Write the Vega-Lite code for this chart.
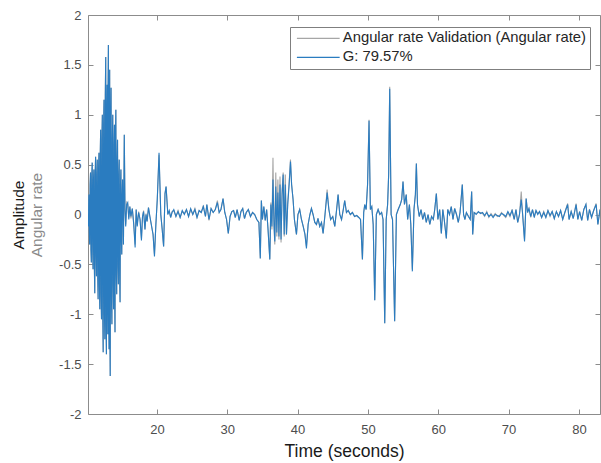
{
  "$schema": "https://vega.github.io/schema/vega-lite/v6.json",
  "width": 512,
  "height": 399,
  "autosize": "none",
  "padding": {"left": 88, "top": 15, "right": 1, "bottom": 49},
  "background": "white",
  "config": {
    "view": {"stroke": "#8c8c8c", "strokeWidth": 1},
    "font": "Liberation Sans",
    "axis": {"domain": false, "grid": false, "tickColor": "#8c8c8c", "labelFont": "Liberation Sans", "titleFont": "Liberation Sans", "titleFontWeight": "normal"}
  },
  "datasets": {
    "series": [
      {"t":10.20,"a":0.00,"g":0.00},{"t":10.26,"a":-0.12,"g":-0.12},{"t":10.32,"a":0.20,"g":0.20},{"t":10.38,"a":-0.18,"g":-0.18},{"t":10.44,"a":-0.30,"g":-0.30},{"t":10.50,"a":0.30,"g":0.30},{"t":10.56,"a":0.42,"g":0.42},
      {"t":10.62,"a":-0.35,"g":-0.35},{"t":10.68,"a":-0.48,"g":-0.48},{"t":10.74,"a":0.38,"g":0.38},{"t":10.80,"a":0.52,"g":0.52},{"t":10.86,"a":-0.30,"g":-0.30},{"t":10.92,"a":-0.55,"g":-0.55},{"t":10.98,"a":0.35,"g":0.35},{"t":11.04,"a":0.45,"g":0.45},
      {"t":11.10,"a":-0.50,"g":-0.50},{"t":11.16,"a":-0.79,"g":-0.79},{"t":11.22,"a":0.40,"g":0.40},{"t":11.28,"a":0.58,"g":0.58},{"t":11.34,"a":-0.40,"g":-0.40},{"t":11.40,"a":-0.62,"g":-0.62},{"t":11.46,"a":0.40,"g":0.40},{"t":11.52,"a":0.55,"g":0.55},
      {"t":11.58,"a":-0.60,"g":-0.60},{"t":11.64,"a":-0.85,"g":-0.85},{"t":11.70,"a":0.45,"g":0.45},{"t":11.76,"a":0.62,"g":0.62},{"t":11.82,"a":-0.70,"g":-0.70},{"t":11.88,"a":-0.95,"g":-0.95},{"t":11.94,"a":0.60,"g":0.60},{"t":12.00,"a":0.85,"g":0.85},
      {"t":12.06,"a":-0.80,"g":-0.80},{"t":12.12,"a":-1.05,"g":-1.05},{"t":12.18,"a":0.75,"g":0.75},{"t":12.24,"a":1.00,"g":1.00},{"t":12.30,"a":-1.00,"g":-1.00},{"t":12.36,"a":-1.38,"g":-1.38},{"t":12.42,"a":0.90,"g":0.90},{"t":12.48,"a":1.15,"g":1.15},
      {"t":12.54,"a":-1.00,"g":-1.00},{"t":12.60,"a":-1.25,"g":-1.25},{"t":12.66,"a":1.20,"g":1.20},{"t":12.72,"a":1.58,"g":1.58},{"t":12.77,"a":-1.10,"g":-1.10},{"t":12.82,"a":-1.40,"g":-1.40},{"t":12.87,"a":1.00,"g":1.00},{"t":12.92,"a":1.30,"g":1.30},
      {"t":12.97,"a":-0.90,"g":-0.90},{"t":13.02,"a":-1.20,"g":-1.20},{"t":13.06,"a":1.30,"g":1.30},{"t":13.10,"a":1.70,"g":1.70},{"t":13.15,"a":-1.00,"g":-1.00},{"t":13.20,"a":-1.35,"g":-1.35},{"t":13.24,"a":1.10,"g":1.10},{"t":13.28,"a":1.45,"g":1.45},
      {"t":13.32,"a":-1.20,"g":-1.20},{"t":13.36,"a":-1.62,"g":-1.62},{"t":13.42,"a":0.95,"g":0.95},{"t":13.48,"a":1.27,"g":1.27},{"t":13.54,"a":-0.85,"g":-0.85},{"t":13.60,"a":-1.10,"g":-1.10},{"t":13.66,"a":0.75,"g":0.75},{"t":13.72,"a":1.00,"g":1.00},
      {"t":13.78,"a":-0.70,"g":-0.70},{"t":13.84,"a":-0.95,"g":-0.95},{"t":13.90,"a":0.70,"g":0.70},{"t":13.96,"a":0.90,"g":0.90},{"t":14.00,"a":-0.85,"g":-0.85},{"t":14.04,"a":-1.18,"g":-1.18},{"t":14.10,"a":0.80,"g":0.80},{"t":14.16,"a":1.05,"g":1.05},
      {"t":14.22,"a":-0.60,"g":-0.60},{"t":14.28,"a":-0.80,"g":-0.80},{"t":14.34,"a":0.55,"g":0.55},{"t":14.40,"a":0.75,"g":0.75},{"t":14.46,"a":-0.50,"g":-0.50},{"t":14.52,"a":-0.70,"g":-0.70},{"t":14.58,"a":0.40,"g":0.40},{"t":14.64,"a":0.55,"g":0.55},
      {"t":14.70,"a":-0.60,"g":-0.60},{"t":14.76,"a":-0.88,"g":-0.88},{"t":14.82,"a":0.30,"g":0.30},{"t":14.88,"a":0.45,"g":0.45},{"t":14.94,"a":-0.25,"g":-0.25},{"t":15.00,"a":-0.40,"g":-0.40},{"t":15.06,"a":0.20,"g":0.20},{"t":15.12,"a":0.35,"g":0.35},
      {"t":15.24,"a":-0.30,"g":-0.30},{"t":15.36,"a":0.80,"g":0.80},{"t":15.46,"a":0.05,"g":0.05},{"t":15.56,"a":-0.10,"g":-0.12},
      {"t":15.70,"a":0.12,"g":0.10},{"t":15.85,"a":0.10,"g":0.12},{"t":16.00,"a":-0.03,"g":-0.05},{"t":16.15,"a":0.08,"g":0.08},
      {"t":16.30,"a":-0.04,"g":-0.02},{"t":16.50,"a":0.06,"g":0.06},{"t":16.70,"a":-0.08,"g":-0.10},{"t":16.90,"a":-0.30,"g":-0.33},
      {"t":17.05,"a":0.05,"g":0.05},{"t":17.20,"a":-0.10,"g":-0.12},{"t":17.40,"a":0.03,"g":0.02},{"t":17.60,"a":-0.05,"g":-0.05},
      {"t":17.80,"a":-0.24,"g":-0.26},{"t":17.95,"a":-0.02,"g":-0.02},{"t":18.10,"a":0.04,"g":0.03},{"t":18.30,"a":-0.15,"g":-0.15},
      {"t":18.45,"a":0.01,"g":0.00},{"t":18.60,"a":-0.07,"g":-0.07},{"t":18.80,"a":0.07,"g":0.07},{"t":19.00,"a":-0.02,"g":-0.02},
      {"t":19.20,"a":-0.10,"g":-0.10},{"t":19.45,"a":-0.20,"g":-0.20},{"t":19.65,"a":-0.40,"g":-0.42},{"t":19.85,"a":-0.10,"g":-0.10},
      {"t":20.05,"a":0.15,"g":0.15},{"t":20.30,"a":0.60,"g":0.62},{"t":20.55,"a":0.00,"g":0.00},{"t":20.75,"a":-0.15,"g":-0.15},
      {"t":20.95,"a":-0.32,"g":-0.32},{"t":21.15,"a":0.21,"g":0.21},{"t":21.30,"a":0.28,"g":0.28},{"t":21.55,"a":0.01,"g":0.00},
      {"t":21.75,"a":0.03,"g":0.04},{"t":21.95,"a":-0.03,"g":-0.03},{"t":22.15,"a":0.03,"g":0.02},{"t":22.40,"a":0.04,"g":0.05},
      {"t":22.70,"a":-0.02,"g":-0.02},{"t":23.00,"a":0.04,"g":0.03},{"t":23.30,"a":-0.03,"g":-0.03},{"t":23.60,"a":0.03,"g":0.04},
      {"t":23.90,"a":0.01,"g":0.00},{"t":24.20,"a":0.05,"g":0.05},{"t":24.50,"a":-0.02,"g":-0.02},{"t":24.80,"a":0.05,"g":0.06},
      {"t":25.10,"a":0.00,"g":0.00},{"t":25.40,"a":0.06,"g":0.05},{"t":25.70,"a":-0.03,"g":-0.03},{"t":26.00,"a":0.04,"g":0.04},
      {"t":26.30,"a":0.02,"g":0.02},{"t":26.60,"a":0.09,"g":0.08},{"t":26.90,"a":-0.02,"g":-0.02},{"t":27.10,"a":0.10,"g":0.10},
      {"t":27.40,"a":-0.06,"g":-0.05},{"t":27.70,"a":0.06,"g":0.06},{"t":28.00,"a":0.02,"g":0.02},{"t":28.30,"a":0.05,"g":0.05},
      {"t":28.60,"a":0.14,"g":0.12},{"t":28.85,"a":0.02,"g":0.02},{"t":29.10,"a":0.05,"g":0.05},{"t":29.40,"a":0.16,"g":0.16},
      {"t":29.65,"a":0.02,"g":0.02},{"t":29.90,"a":-0.05,"g":-0.05},{"t":30.15,"a":-0.19,"g":-0.19},{"t":30.40,"a":-0.02,"g":-0.02},
      {"t":30.65,"a":0.03,"g":0.03},{"t":30.90,"a":0.04,"g":0.04},{"t":31.15,"a":-0.03,"g":-0.03},{"t":31.40,"a":0.05,"g":0.05},
      {"t":31.70,"a":-0.06,"g":-0.06},{"t":31.95,"a":0.03,"g":0.03},{"t":32.20,"a":0.06,"g":0.06},{"t":32.45,"a":-0.04,"g":-0.04},
      {"t":32.70,"a":0.02,"g":0.02},{"t":33.00,"a":0.05,"g":0.05},{"t":33.30,"a":-0.02,"g":-0.02},{"t":33.60,"a":0.02,"g":0.02},
      {"t":33.90,"a":0.00,"g":0.00},{"t":34.20,"a":-0.05,"g":-0.05},{"t":34.50,"a":-0.08,"g":-0.08},{"t":34.70,"a":-0.44,"g":-0.44},
      {"t":34.85,"a":0.14,"g":0.14},{"t":35.00,"a":-0.05,"g":-0.05},{"t":35.20,"a":0.08,"g":0.08},{"t":35.40,"a":-0.06,"g":-0.06},
      {"t":35.60,"a":0.05,"g":0.05},{"t":35.80,"a":-0.15,"g":-0.15},{"t":36.05,"a":-0.45,"g":-0.45},{"t":36.20,"a":0.12,"g":0.10},
      {"t":36.35,"a":-0.15,"g":-0.12},{"t":36.50,"a":0.57,"g":0.35},{"t":36.65,"a":-0.12,"g":-0.10},{"t":36.76,"a":-0.30,"g":-0.27},
      {"t":36.90,"a":0.42,"g":0.28},{"t":37.05,"a":-0.22,"g":-0.18},{"t":37.20,"a":0.35,"g":0.22},{"t":37.35,"a":-0.25,"g":-0.22},
      {"t":37.50,"a":0.38,"g":0.30},{"t":37.65,"a":-0.28,"g":-0.25},{"t":37.80,"a":0.25,"g":0.20},{"t":37.95,"a":0.42,"g":0.40},
      {"t":38.10,"a":-0.22,"g":-0.20},{"t":38.25,"a":0.40,"g":0.30},{"t":38.42,"a":-0.20,"g":-0.20},{"t":38.60,"a":0.12,"g":0.10},
      {"t":38.80,"a":0.32,"g":0.30},{"t":38.99,"a":0.55,"g":0.53},{"t":39.15,"a":0.30,"g":0.30},{"t":39.36,"a":0.15,"g":0.15},
      {"t":39.55,"a":-0.05,"g":-0.05},{"t":39.84,"a":-0.20,"g":-0.20},{"t":40.05,"a":0.00,"g":0.00},{"t":40.30,"a":0.05,"g":0.05},
      {"t":40.55,"a":-0.05,"g":-0.05},{"t":40.80,"a":-0.12,"g":-0.12},{"t":41.05,"a":-0.20,"g":-0.20},{"t":41.26,"a":-0.32,"g":-0.34},
      {"t":41.50,"a":-0.10,"g":-0.10},{"t":41.75,"a":0.00,"g":0.00},{"t":41.97,"a":0.06,"g":0.06},{"t":42.20,"a":0.00,"g":0.00},
      {"t":42.45,"a":-0.08,"g":-0.08},{"t":42.69,"a":-0.10,"g":-0.10},{"t":42.90,"a":-0.04,"g":-0.04},{"t":43.15,"a":-0.12,"g":-0.12},
      {"t":43.40,"a":-0.08,"g":-0.08},{"t":43.63,"a":-0.19,"g":-0.19},{"t":43.90,"a":0.00,"g":0.00},{"t":44.20,"a":0.25,"g":0.22},
      {"t":44.45,"a":0.05,"g":0.05},{"t":44.70,"a":-0.05,"g":-0.05},{"t":45.00,"a":-0.02,"g":-0.02},{"t":45.29,"a":-0.12,"g":-0.12},
      {"t":45.55,"a":0.05,"g":0.05},{"t":45.76,"a":0.20,"g":0.20},{"t":46.00,"a":0.00,"g":0.00},{"t":46.25,"a":-0.05,"g":-0.05},
      {"t":46.50,"a":0.05,"g":0.05},{"t":46.70,"a":0.14,"g":0.14},{"t":46.95,"a":0.02,"g":0.02},{"t":47.20,"a":0.04,"g":0.04},
      {"t":47.50,"a":0.00,"g":0.00},{"t":47.80,"a":0.02,"g":0.02},{"t":48.10,"a":-0.02,"g":-0.02},{"t":48.40,"a":-0.01,"g":-0.01},
      {"t":48.70,"a":-0.03,"g":-0.03},{"t":48.95,"a":-0.05,"g":-0.05},{"t":49.22,"a":-0.45,"g":-0.45},{"t":49.40,"a":0.02,"g":0.02},
      {"t":49.55,"a":0.10,"g":0.10},{"t":49.75,"a":0.05,"g":0.05},{"t":49.95,"a":0.30,"g":0.30},{"t":50.16,"a":0.95,"g":0.94},
      {"t":50.35,"a":0.05,"g":0.05},{"t":50.55,"a":0.08,"g":0.08},{"t":50.75,"a":-0.10,"g":-0.10},{"t":50.97,"a":-0.86,"g":-0.86},
      {"t":51.20,"a":0.00,"g":0.00},{"t":51.45,"a":0.05,"g":0.05},{"t":51.70,"a":0.00,"g":0.00},{"t":51.95,"a":0.02,"g":0.02},
      {"t":52.15,"a":-0.05,"g":-0.05},{"t":52.39,"a":-1.09,"g":-1.09},{"t":52.60,"a":-0.05,"g":-0.05},{"t":52.80,"a":0.10,"g":0.10},
      {"t":52.95,"a":0.40,"g":0.40},{"t":53.10,"a":1.28,"g":1.26},{"t":53.30,"a":0.00,"g":0.00},{"t":53.50,"a":-0.05,"g":-0.05},
      {"t":53.80,"a":-1.07,"g":-1.07},{"t":54.05,"a":0.00,"g":0.00},{"t":54.30,"a":0.05,"g":0.05},{"t":54.60,"a":0.10,"g":0.10},
      {"t":54.80,"a":0.15,"g":0.15},{"t":54.99,"a":0.33,"g":0.33},{"t":55.20,"a":0.10,"g":0.10},{"t":55.45,"a":0.20,"g":0.20},
      {"t":55.65,"a":-0.05,"g":-0.05},{"t":55.90,"a":0.10,"g":0.10},{"t":56.10,"a":-0.10,"g":-0.10},{"t":56.32,"a":-0.55,"g":-0.57},
      {"t":56.55,"a":0.05,"g":0.05},{"t":56.75,"a":0.20,"g":0.20},{"t":56.89,"a":0.51,"g":0.51},{"t":57.05,"a":0.10,"g":0.10},
      {"t":57.30,"a":-0.02,"g":-0.02},{"t":57.55,"a":0.05,"g":0.05},{"t":57.80,"a":-0.05,"g":-0.05},{"t":58.05,"a":0.02,"g":0.02},
      {"t":58.30,"a":-0.08,"g":-0.08},{"t":58.55,"a":0.00,"g":0.00},{"t":58.80,"a":-0.10,"g":-0.10},{"t":59.05,"a":-0.02,"g":-0.02},
      {"t":59.30,"a":-0.05,"g":-0.05},{"t":59.50,"a":0.05,"g":0.05},{"t":59.73,"a":0.21,"g":0.21},{"t":59.95,"a":-0.05,"g":-0.05},
      {"t":60.20,"a":0.05,"g":0.05},{"t":60.44,"a":-0.19,"g":-0.19},{"t":60.65,"a":0.05,"g":0.05},{"t":60.85,"a":-0.05,"g":-0.05},
      {"t":61.15,"a":-0.24,"g":-0.24},{"t":61.35,"a":0.05,"g":0.05},{"t":61.60,"a":0.00,"g":0.00},{"t":61.85,"a":0.08,"g":0.08},
      {"t":62.10,"a":-0.05,"g":-0.05},{"t":62.33,"a":0.06,"g":0.06},{"t":62.60,"a":0.00,"g":0.00},{"t":62.85,"a":-0.08,"g":-0.08},
      {"t":63.10,"a":0.02,"g":0.02},{"t":63.42,"a":0.30,"g":0.30},{"t":63.60,"a":0.00,"g":0.00},{"t":63.80,"a":-0.05,"g":-0.05},
      {"t":64.00,"a":0.02,"g":0.02},{"t":64.30,"a":-0.02,"g":-0.02},{"t":64.55,"a":-0.05,"g":-0.05},{"t":64.75,"a":0.23,"g":0.23},
      {"t":64.90,"a":-0.20,"g":-0.20},{"t":65.10,"a":0.02,"g":0.02},{"t":65.40,"a":0.01,"g":0.00},{"t":65.70,"a":0.02,"g":0.03},
      {"t":66.00,"a":0.02,"g":0.01},{"t":66.30,"a":0.01,"g":0.02},{"t":66.60,"a":-0.02,"g":-0.01},{"t":66.90,"a":0.03,"g":0.02},
      {"t":67.20,"a":-0.03,"g":-0.02},{"t":67.50,"a":0.01,"g":0.00},{"t":67.80,"a":-0.02,"g":-0.03},{"t":68.10,"a":0.01,"g":0.00},
      {"t":68.40,"a":-0.02,"g":-0.01},{"t":68.70,"a":-0.01,"g":-0.02},{"t":69.00,"a":0.02,"g":0.01},{"t":69.30,"a":-0.01,"g":0.00},
      {"t":69.60,"a":-0.03,"g":-0.02},{"t":69.90,"a":0.02,"g":0.03},{"t":70.20,"a":-0.02,"g":-0.01},{"t":70.50,"a":0.05,"g":0.04},
      {"t":70.80,"a":-0.05,"g":-0.05},{"t":71.05,"a":0.05,"g":0.05},{"t":71.30,"a":-0.08,"g":-0.08},{"t":71.55,"a":0.00,"g":0.00},
      {"t":71.80,"a":0.23,"g":0.15},{"t":72.00,"a":0.00,"g":0.00},{"t":72.27,"a":-0.25,"g":-0.27},{"t":72.50,"a":0.16,"g":0.16},
      {"t":72.70,"a":0.02,"g":0.02},{"t":72.90,"a":0.06,"g":0.06},{"t":73.15,"a":-0.03,"g":-0.02},{"t":73.40,"a":0.05,"g":0.05},
      {"t":73.65,"a":-0.02,"g":-0.03},{"t":73.90,"a":0.04,"g":0.04},{"t":74.15,"a":0.01,"g":0.00},{"t":74.40,"a":0.03,"g":0.03},
      {"t":74.70,"a":-0.03,"g":-0.03},{"t":75.00,"a":0.03,"g":0.02},{"t":75.30,"a":-0.03,"g":-0.03},{"t":75.60,"a":0.04,"g":0.04},
      {"t":75.90,"a":-0.02,"g":-0.01},{"t":76.20,"a":0.03,"g":0.03},{"t":76.50,"a":-0.04,"g":-0.04},{"t":76.80,"a":0.03,"g":0.03},
      {"t":77.10,"a":-0.02,"g":-0.02},{"t":77.40,"a":0.04,"g":0.04},{"t":77.70,"a":-0.05,"g":-0.05},{"t":78.00,"a":0.02,"g":0.02},
      {"t":78.40,"a":0.11,"g":0.10},{"t":78.60,"a":-0.05,"g":-0.05},{"t":78.90,"a":0.03,"g":0.03},{"t":79.20,"a":-0.04,"g":-0.04},
      {"t":79.60,"a":0.11,"g":0.10},{"t":79.85,"a":-0.05,"g":-0.05},{"t":80.10,"a":0.03,"g":0.03},{"t":80.40,"a":-0.06,"g":-0.06},
      {"t":80.70,"a":0.05,"g":0.05},{"t":81.00,"a":0.10,"g":0.10},{"t":81.25,"a":-0.06,"g":-0.06},{"t":81.50,"a":0.05,"g":0.05},
      {"t":81.80,"a":-0.03,"g":-0.03},{"t":82.10,"a":0.04,"g":0.04},{"t":82.45,"a":0.11,"g":0.10},{"t":82.70,"a":-0.10,"g":-0.10},
      {"t":83.00,"a":0.05,"g":0.05}
    ]
  },
  "data": {"name": "series"},
  "transform": [{"fold": ["a", "g"], "as": ["s", "v"]}],
  "layer": [
    {
      "mark": {"type": "line", "strokeWidth": 1.1, "clip": true},
      "encoding": {
        "x": {
          "field": "t", "type": "quantitative",
          "scale": {"domain": [10.2, 83.0], "nice": false, "zero": false},
          "axis": {"orient": "bottom", "values": [20, 30, 40, 50, 60, 70, 80], "tickSize": -5, "labelPadding": 14, "labelFontSize": 13, "labelColor": "#4d4d4d", "title": "Time (seconds)", "titleFontSize": 17.5, "titleColor": "#1a1a1a", "titlePadding": 6}
        },
        "y": {
          "field": "v", "type": "quantitative",
          "scale": {"domain": [-2, 2], "nice": false, "zero": false},
          "axis": {"orient": "left", "values": [-2, -1.5, -1, -0.5, 0, 0.5, 1, 1.5, 2], "labelExpr": "datum.value + ''", "tickSize": -5, "labelPadding": 12, "labelFontSize": 13, "labelColor": "#4d4d4d", "title": "Angular rate", "titleFontSize": 15.5, "titleColor": "#8a8a8a", "titlePadding": 14}
        },
        "color": {
          "field": "s", "type": "nominal",
          "scale": {"domain": ["a", "g"], "range": ["#a6a6a6", "#2a7cc0"]},
          "legend": {
            "orient": "none", "legendX": 202, "legendY": 12,
            "title": null, "symbolType": "M-1,0H8.5", "symbolSize": 81, "symbolStrokeWidth": 1.2,
            "labelExpr": "datum.label == 'a' ? 'Angular rate Validation (Angular rate)' : 'G: 79.57%'",
            "labelFontSize": 14.8, "labelColor": "#262626", "labelFont": "Liberation Sans", "labelLimit": 400,
            "strokeColor": "#7f7f7f", "fillColor": "white", "padding": 4, "rowPadding": 3, "labelOffset": 34
          }
        }
      }
    },
    {
      "mark": {"type": "line", "opacity": 0},
      "encoding": {
        "x": {"field": "t", "type": "quantitative", "axis": {"orient": "top", "values": [20, 30, 40, 50, 60, 70, 80], "labels": false, "tickSize": -5, "title": null}},
        "y": {"field": "v", "type": "quantitative", "axis": {"orient": "right", "values": [-2, -1.5, -1, -0.5, 0, 0.5, 1, 1.5, 2], "labels": false, "tickSize": -5, "title": null}}
      }
    },
    {
      "mark": {"type": "line", "opacity": 0},
      "encoding": {
        "x": {"field": "t", "type": "quantitative", "axis": null},
        "y": {"field": "v", "type": "quantitative", "axis": {"orient": "left", "labels": false, "ticks": false, "title": "Amplitude", "titleFontSize": 15.5, "titleColor": "#1a1a1a", "titlePadding": 62}}
      }
    }
  ],
  "resolve": {"axis": {"x": "independent", "y": "independent"}}
}
